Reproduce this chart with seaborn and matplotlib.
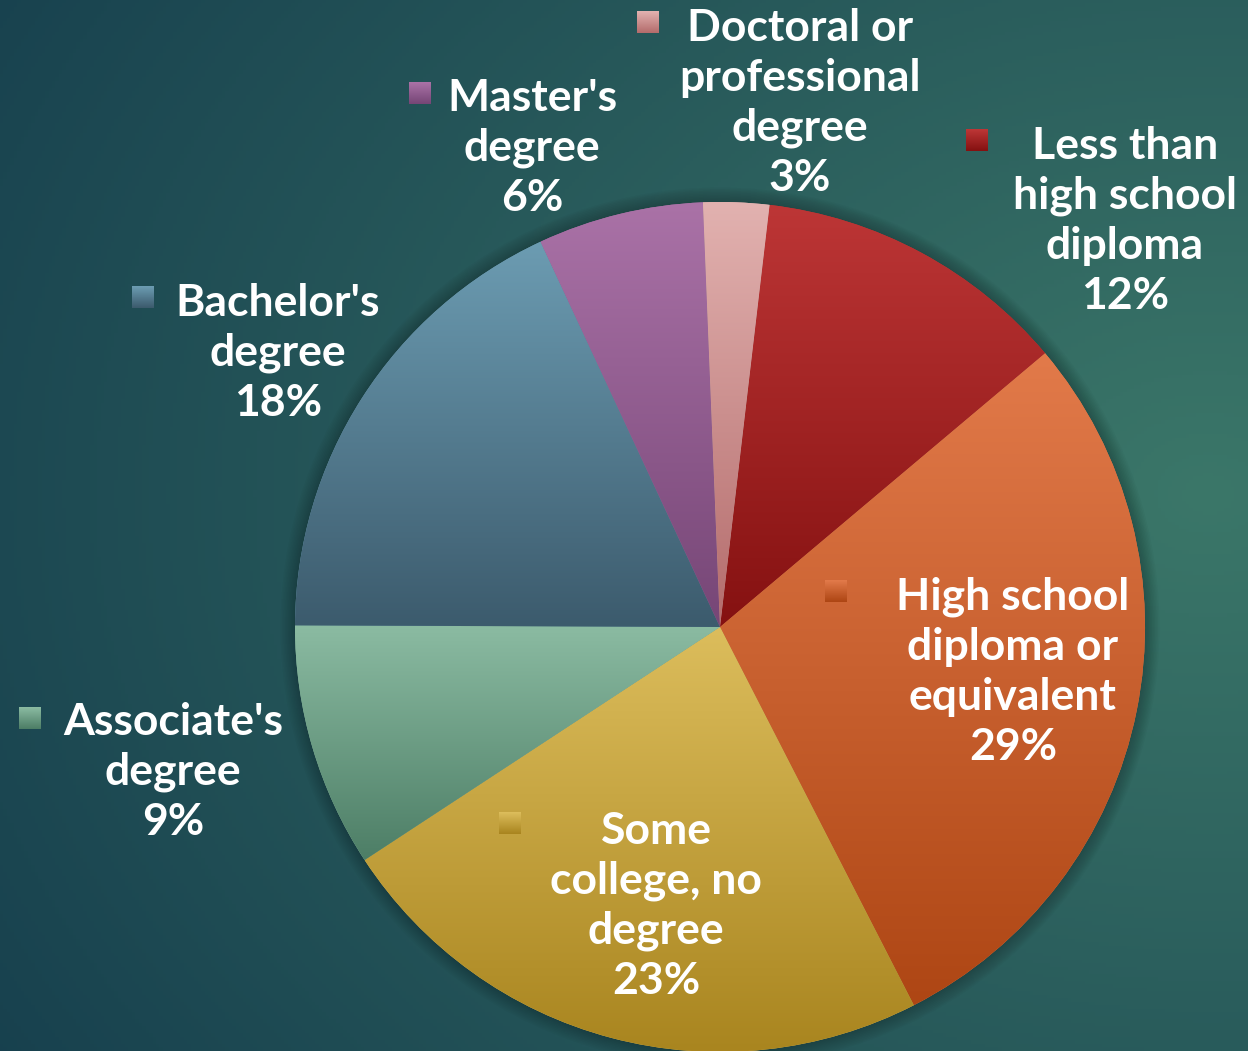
import numpy as np
import matplotlib.pyplot as plt
import seaborn as sns
from matplotlib.colors import to_rgb
from matplotlib.patches import Circle

sns.set_theme(style="white")
plt.rcParams['font.family'] = ['Lato', 'DejaVu Sans']

# data, clockwise from just right of 12 o'clock
categories = ["Less than high school diploma", "High school diploma or equivalent",
              "Some college, no degree", "Associate's degree", "Bachelor's degree",
              "Master's degree", "Doctoral or professional degree"]
label_names = ["Less than\nhigh school\ndiploma", "High school\ndiploma or\nequivalent",
               "Some\ncollege, no\ndegree", "Associate's\ndegree", "Bachelor's\ndegree",
               "Master's\ndegree", "Doctoral or\nprofessional\ndegree"]
shares = [12.0, 28.6, 23.3, 9.3, 18.0, 6.3, 2.5]
pct_labels = ["12%", "29%", "23%", "9%", "18%", "6%", "3%"]

# gradient colours (top, bottom) per slice
top_colors = ["#bd3636", "#e27a4a", "#dcbd5c", "#8bbba2", "#6c9cb2", "#aa72a7", "#e2b2b0"]
bottom_colors = ["#851111", "#ae4614", "#a9851f", "#4d7e66", "#3c5b6d", "#764676", "#b46c6c"]

W, H = 1248, 1051
center = (720, H - 627)
radius = 425

# label placement (pixel centres) and marker squares
label_pos = [(1125, 221), (1013, 672), (656, 906), (173, 772), (278, 353), (532, 148), (800, 103)]
marker_pos = [(977, 140), (836, 591), (510, 823), (30, 718), (143, 297), (420, 93), (648, 22)]


def grad(c_top, c_bot, n=256):
    a, b = np.array(to_rgb(c_top)), np.array(to_rgb(c_bot))
    t = np.linspace(0, 1, n)[:, None, None]
    col = a * (1 - t) + b * t
    return np.repeat(col, 2, axis=1)


fig = plt.figure(figsize=(W / 100, H / 100), dpi=100)

# background
bg_ax = fig.add_axes([0, 0, 1, 1], zorder=0)
yy, xx = np.mgrid[0:1:300j, 0:1:360j]
d = np.sqrt(((xx - 0.97) * 1.0) ** 2 + ((yy - 0.47) * 1.1) ** 2)
t = np.clip(d / 1.15, 0, 1)[..., None]
light, dark = np.array(to_rgb("#3b7769")), np.array(to_rgb("#17404e"))
bg_ax.imshow(light * (1 - t) + dark * t, aspect='auto', extent=[0, 1, 0, 1], origin='upper')
bg_ax.axis('off')

ax = fig.add_axes([0, 0, 1, 1], zorder=1)
ax.patch.set_alpha(0)

# soft shadow round the pie
for k in range(10):
    ax.add_patch(Circle(center, radius + 1 + k * 1.5, color='black', alpha=0.025, lw=0, zorder=0))

wedges, _ = ax.pie(shares, center=center, radius=radius, startangle=83.3,
                   counterclock=False, colors=top_colors,
                   wedgeprops=dict(linewidth=0))

for w, ct, cb in zip(wedges, top_colors, bottom_colors):
    w.set_zorder(1)
    bb = w.get_path().get_extents()
    im = ax.imshow(grad(ct, cb), extent=[bb.x0, bb.x1, bb.y0, bb.y1],
                   origin='upper', aspect='auto', interpolation='bilinear', zorder=2)
    im.set_clip_path(w)

for (x, y), (mx, my), name, pct, ct, cb in zip(label_pos, marker_pos, label_names,
                                                 pct_labels, top_colors, bottom_colors):
    ax.text(x, H - y, name + "\n" + pct, ha='center', va='center', color='white',
            fontsize=32, fontweight='bold', linespacing=1.3, zorder=5)
    s = 11
    ax.imshow(grad(ct, cb, 32), extent=[mx - s, mx + s, H - my - s, H - my + s],
              origin='upper', aspect='auto', zorder=5)

ax.set_xlim(0, W)
ax.set_ylim(0, H)
ax.set_aspect('equal')
ax.axis('off')

plt.savefig("out.png", dpi=100)
